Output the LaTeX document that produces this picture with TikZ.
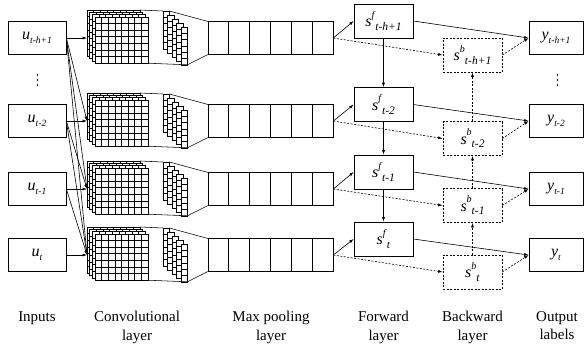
\documentclass[tikz,border=0pt]{standalone}
\usepackage{fontspec}
\setmainfont{Liberation Serif}
\usetikzlibrary{arrows.meta,calc}
\newcommand\sublbl[2]{\textit{#1}\raisebox{-0.45ex}{\fontsize{9.5}{10}\selectfont\textit{#2}}}
\newcommand\supsublbl[3]{\textit{#1}\raisebox{1.15ex}{\fontsize{10}{10}\selectfont\textit{#2}}\raisebox{-0.5ex}{\fontsize{11.5}{12}\selectfont\textit{#3}}}
\newcommand\convblock[1]{%
  \foreach \k in {0,...,3}{%
    \pgfmathsetmacro\xo{87+2.7*\k}%
    \pgfmathsetmacro\yo{#1-28+2.3*\k}%
    \filldraw[fill=white,gridline] (\xo,\yo) rectangle ++(52.8,46.2);
    \foreach \i in {1,...,7} \draw[gridline] (\xo+6.6*\i,\yo) -- ++(0,46.2);
    \foreach \j in {1,...,6} \draw[gridline] (\xo,\yo+6.6*\j) -- ++(52.8,0);
  }%
  \foreach \k in {0,...,4}{%
    \pgfmathsetmacro\xo{163+4.5*\k}%
    \pgfmathsetmacro\yo{#1-27+4*\k}%
    \filldraw[fill=white,gridline] (\xo,\yo) rectangle ++(6.4,37.8);
    \foreach \j in {1,...,5} \draw[gridline] (\xo,\yo+6.3*\j) -- ++(6.4,0);
  }%
  \draw[gridline] (139.8,#1-28) -- (163,#1-27);
  \draw[gridline] (169.4,#1-27) -- (208,#1-16.5);
  \draw[gridline] (147.8,#1+25.2) -- (187.4,#1+26.8) -- (208,#1+16.5);
}
\begin{document}
\begin{tikzpicture}[x=1pt,y=-1pt,
  gridline/.style={line width=0.55pt},
  box/.style={draw,line width=0.7pt,inner sep=0pt,minimum width=59pt,minimum height=34pt,font=\fontsize{16}{16}\selectfont},
  dsh/.style={dash pattern=on 2pt off 1.5pt},
  dbox/.style={box,dsh},
  arr/.style={-{Latex[length=4.5pt,width=3pt]},line width=0.6pt},
  darr/.style={arr,dsh},
  vdot/.style={fill=black,circle,inner sep=0pt,minimum size=1.8pt},
  captext/.style={font=\fontsize{15}{18.5}\selectfont,align=center,anchor=north,inner sep=0pt}]
\useasboundingbox (0,0) rectangle (584,349);

% conv blocks
\convblock{38}
\convblock{121}
\convblock{189}
\convblock{255}

% inputs
\node[box,minimum width=58pt,minimum height=33pt] (u1) at (37,38) {\sublbl{u}{t-h+1}};
\node[box,minimum width=58pt,minimum height=33pt] (u2) at (37,121) {\sublbl{u}{t-2}};
\node[box,minimum width=58pt,minimum height=33pt] (u3) at (37,189) {\sublbl{u}{t-1}};
\node[box,minimum width=58pt,minimum height=33pt] (u4) at (37,255) {\sublbl{u}{t}};
\node[vdot] (da1) at (37.5,75) {};
\node[vdot] (da2) at (37.5,80) {};
\node[vdot] (da3) at (37.5,85) {};

% conv entry points
\coordinate (c1) at (87,38);
\coordinate (c2) at (87,121);
\coordinate (c3) at (87,189);
\coordinate (c4) at (87,255);

\draw[arr] (u1.east) -- (c1);
\draw[arr] (u1.east) -- (c2);
\draw[arr] (u1.east) -- (c3);
\draw[arr] (u1.east) -- (c4);
\draw[arr] (u2.east) -- (c2);
\draw[arr] (u2.east) -- (c3);
\draw[arr] (u2.east) -- (c4);
\draw[arr] (u3.east) -- (c3);
\draw[arr] (u3.east) -- (c4);
\draw[arr] (u4.east) -- (c4);

% pooling
\foreach \n/\c in {1/38,2/121,3/189,4/255}{%
  \node[draw,line width=0.7pt,minimum width=125pt,minimum height=33pt,inner sep=0pt] (p\n) at (270.5,\c) {};
  \foreach \m in {1,...,5} \draw[line width=0.7pt] (208+20.833*\m,\c-16.5) -- ++(0,33);
}

% forward
\node[box] (f1) at (383.5,21) {\supsublbl{s}{f}{t-h+1}};
\node[box] (f2) at (383.5,104.5) {\supsublbl{s}{f}{t-2}};
\node[box] (f3) at (383.5,172) {\supsublbl{s}{f}{t-1}};
\node[box] (f4) at (383.5,239) {\supsublbl{s}{f}{t}};

% backward
\node[dbox] (b1) at (472.5,55) {\supsublbl{s}{b}{t-h+1}};
\node[dbox] (b2) at (472.5,138.5) {\supsublbl{s}{b}{t-2}};
\node[dbox] (b3) at (472.5,205.5) {\supsublbl{s}{b}{t-1}};
\node[dbox] (b4) at (472.5,272) {\supsublbl{s}{b}{t}};

% outputs
\node[box,minimum width=54pt,minimum height=33pt] (y1) at (556,38) {\sublbl{y}{t-h+1}};
\node[box,minimum width=54pt,minimum height=33pt] (y2) at (556,121) {\sublbl{y}{t-2}};
\node[box,minimum width=54pt,minimum height=33pt] (y3) at (556,189) {\sublbl{y}{t-1}};
\node[box,minimum width=54pt,minimum height=33pt] (y4) at (556,255) {\sublbl{y}{t}};
\node[vdot] (db1) at (557.5,75) {};
\node[vdot] (db2) at (557.5,80) {};
\node[vdot] (db3) at (557.5,85) {};

\foreach \n in {1,...,4}{%
  \draw[arr] (p\n.east) -- (f\n.west);
  \draw[darr] (p\n.east) -- (b\n.west);
  \draw[arr] (f\n.east) -- (y\n.west);
  \draw[darr] (b\n.east) -- (y\n.west);
}
\draw[arr] (f1.south) -- (f2.north);
\draw[arr] (f2.south) -- (f3.north);
\draw[arr] (f3.south) -- (f4.north);
\draw[darr] (b2.north) -- (b1.south);
\draw[darr] (b3.north) -- (b2.south);
\draw[darr] (b4.north) -- (b3.south);

% captions
\node[captext] (l1) at (37,311) {Inputs};
\node[captext] (l2) at (137,311) {Convolutional\\layer};
\node[captext] (l3) at (271,311) {Max pooling\\layer};
\node[captext] (l4) at (383.5,311) {Forward\\layer};
\node[captext] (l5) at (472.5,311) {Backward\\layer};
\node[captext] (l6) at (557,311) {Output\\labels};
\end{tikzpicture}
\end{document}
